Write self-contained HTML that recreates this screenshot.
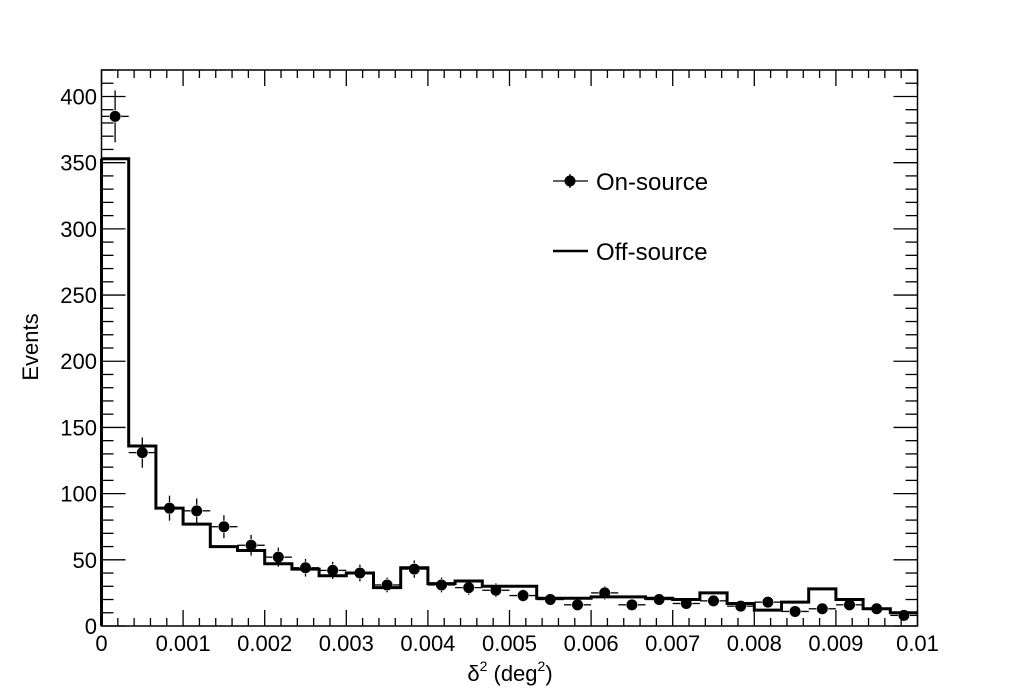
<!DOCTYPE html>
<html><head><meta charset="utf-8"><style>
html,body{margin:0;padding:0;background:#fff;}
svg{display:block;font-family:"Liberation Sans",Arial,sans-serif;}
</style></head><body>
<svg id="c" width="1020" height="696" xmlns="http://www.w3.org/2000/svg"></svg>
<script>
const L=101.5,R=917.5,T=70,B=626,YMAX=420;
const X=v=>L+(R-L)*v/0.01, Y=v=>B-(B-T)*v/YMAX;
let s='';
const off=[353,136,89,77,60,57,47,43,38,40,29,44,32,34,30,30,21,21,22,22,21,20,25,17,12,18,28,20,13,10];
const on=[385,131,89,87,75,61,52,44,42,40,31,43,31,29,27,23,20,16,25,16,20,17,19,15,18,11,13,16,13,8];
const bw=0.01/30;
let d=`M${X(0)},${Y(off[0])}`;
for(let i=0;i<30;i++){d+=` L${X((i+1)*bw)},${Y(off[i])}`; if(i<29)d+=` L${X((i+1)*bw)},${Y(off[i+1])}`;}
s+=`<path d="${d}" fill="none" stroke="#000" stroke-width="3"/>`;
s+=`<line x1="${X(0)}" y1="${Y(off[0])}" x2="${X(0)}" y2="${B}" stroke="#000" stroke-width="3"/>`;
for(let i=0;i<30;i++){const cx=X((i+0.5)*bw),cy=Y(on[i]),e=Math.sqrt(on[i]);
 s+=`<line x1="${X(i*bw)}" y1="${cy}" x2="${cx-6}" y2="${cy}" stroke="#000" stroke-width="1.3"/>`;
 s+=`<line x1="${cx+6}" y1="${cy}" x2="${X((i+1)*bw)}" y2="${cy}" stroke="#000" stroke-width="1.3"/>`;
 const y1=Y(on[i]+e),y2=Y(on[i]-e);
 if(cy-6>y1)s+=`<line x1="${cx}" y1="${y1}" x2="${cx}" y2="${cy-6}" stroke="#000" stroke-width="1.3"/>`;
 if(cy+6<y2)s+=`<line x1="${cx}" y1="${cy+6}" x2="${cx}" y2="${y2}" stroke="#000" stroke-width="1.3"/>`;
 s+=`<circle cx="${cx}" cy="${cy}" r="5.5" fill="#000"/>`;}
s+=`<rect x="${L}" y="${T}" width="${R-L}" height="${B-T}" fill="none" stroke="#000" stroke-width="1.5"/>`;
for(let k=0;k<=50;k++){const x=X(k*0.0002),len=k%5==0?16:8;
 s+=`<line x1="${x}" y1="${B}" x2="${x}" y2="${B-len}" stroke="#000" stroke-width="1.3"/><line x1="${x}" y1="${T}" x2="${x}" y2="${T+len}" stroke="#000" stroke-width="1.3"/>`;}
const xl=['0','0.001','0.002','0.003','0.004','0.005','0.006','0.007','0.008','0.009','0.01'];
xl.forEach((t,i)=>{s+=`<text x="${X(i*0.001)}" y="651" font-size="22" text-anchor="middle">${t}</text>`;});
for(let k=0;k<=42;k++){const y=Y(k*10),len=k%5==0?24:12;
 s+=`<line x1="${L}" y1="${y}" x2="${L+len}" y2="${y}" stroke="#000" stroke-width="1.3"/><line x1="${R}" y1="${y}" x2="${R-len}" y2="${y}" stroke="#000" stroke-width="1.3"/>`;}
for(let v=50;v<=400;v+=50)s+=`<text x="97" y="${Y(v)+8}" font-size="22" text-anchor="end">${v}</text>`;
s+=`<text x="97" y="${B+8}" font-size="22" text-anchor="end">0</text>`;
s+=`<text transform="translate(38,347) rotate(-90)" font-size="22" text-anchor="middle">Events</text>`;
s+=`<text x="510" y="681" font-size="22" text-anchor="middle">δ<tspan font-size="14" dy="-10">2</tspan><tspan dy="10"> (deg</tspan><tspan font-size="14" dy="-10">2</tspan><tspan dy="10">)</tspan></text>`;
s+=`<line x1="553" y1="181" x2="588" y2="181" stroke="#000" stroke-width="1.3"/><line x1="570" y1="174" x2="570" y2="188" stroke="#000" stroke-width="1.3"/><circle cx="570" cy="181" r="5.5"/>`;
s+=`<text x="596" y="190" font-size="24">On-source</text>`;
s+=`<line x1="553" y1="251" x2="588" y2="251" stroke="#000" stroke-width="2.5"/>`;
s+=`<text x="596" y="260" font-size="24">Off-source</text>`;
document.getElementById('c').innerHTML=s;
</script>
</body></html>
